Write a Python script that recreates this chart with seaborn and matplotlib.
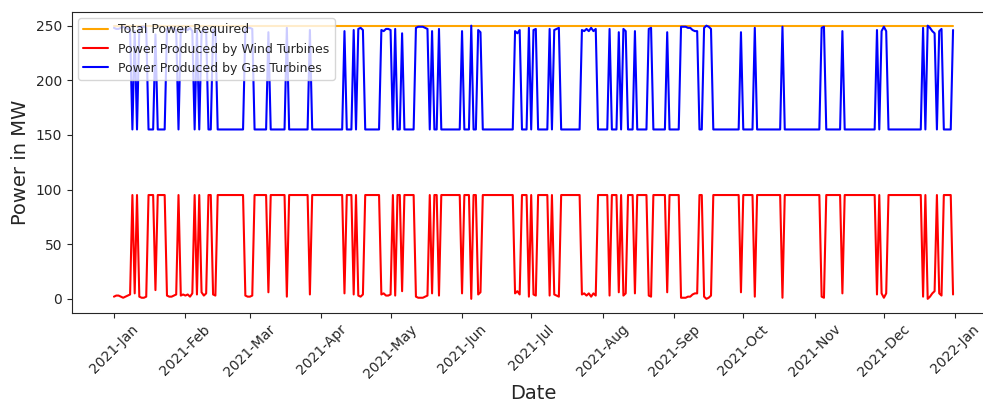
import matplotlib
matplotlib.use("Agg")
import matplotlib.pyplot as plt
import matplotlib.dates as mdates
import seaborn as sns
import pandas as pd
import numpy as np

# Demand is flat over the year
total_required = 250  # MW

# Daily wind output (MW)
wind_jan = [2, 3, 3, 2, 1, 2, 3, 4, 95, 5, 95, 2, 1, 1, 2, 95, 95, 95, 8, 95, 95,
            95, 95, 3, 2, 2, 3, 4, 95, 3, 4]
wind_feb = [3, 4, 2, 5, 95, 4, 95, 6, 3, 5, 95, 95, 4, 3, 95, 95, 95, 95, 95, 95,
            95, 95, 95, 95, 95, 95, 3, 2]
wind_mar = [2, 3, 95, 95, 95, 95, 95, 95, 6, 95, 95, 95, 95, 95, 95, 95, 2, 95, 95,
            95, 95, 95, 95, 95, 95, 95, 4, 95, 95, 95, 95]
wind_apr = [95, 95, 95, 95, 95, 95, 95, 95, 95, 95, 5, 95, 95, 95, 4, 95, 3, 2, 4,
            95, 95, 95, 95, 95, 95, 95, 4, 5, 3, 3]
wind_may = [4, 95, 3, 95, 95, 7, 95, 95, 95, 95, 95, 2, 1, 1, 1, 2, 3, 95, 5, 95,
            95, 3, 95, 95, 95, 95, 95, 95, 95, 95, 95]
wind_jun = [5, 95, 95, 95, 0, 95, 95, 4, 6, 95, 95, 95, 95, 95, 95, 95, 95, 95, 95,
            95, 95, 95, 95, 5, 7, 4, 95, 95, 95, 2]
wind_jul = [95, 4, 3, 95, 95, 95, 95, 95, 3, 95, 4, 3, 2, 95, 95, 95, 95, 95, 95,
            95, 95, 95, 4, 5, 3, 5, 2, 5, 3, 95, 95]
wind_aug = [95, 95, 95, 3, 95, 95, 95, 6, 95, 3, 5, 95, 95, 95, 5, 95, 95, 95, 95,
            95, 3, 2, 95, 95, 95, 95, 95, 95, 6, 95, 95]
wind_sep = [95, 95, 95, 1, 1, 1, 2, 2, 4, 5, 5, 95, 95, 2, 0, 1, 3, 95, 95, 95, 95,
            95, 95, 95, 95, 95, 95, 95, 95, 6]
wind_oct = [95, 95, 95, 95, 95, 2, 95, 95, 95, 95, 95, 95, 95, 95, 95, 95, 95, 1,
            95, 95, 95, 95, 95, 95, 95, 95, 95, 95, 95, 95, 95]
wind_nov = [95, 95, 95, 2, 1, 95, 95, 95, 95, 95, 95, 95, 5, 95, 95, 95, 95, 95, 95,
            95, 95, 95, 95, 95, 95, 95, 95, 4, 95, 5]
wind_dec = [1, 5, 95, 95, 95, 95, 95, 95, 95, 95, 95, 95, 95, 95, 95, 95, 95, 2, 95,
            0, 2, 5, 7, 95, 5, 3, 95, 95, 95, 95, 4]

wind = np.array(wind_jan + wind_feb + wind_mar + wind_apr + wind_may + wind_jun
                + wind_jul + wind_aug + wind_sep + wind_oct + wind_nov + wind_dec)
dates = pd.date_range("2021-01-01", "2021-12-31", freq="D")

df = pd.DataFrame({"Date": dates, "Total": total_required, "Wind": wind})
# gas turbines cover whatever the wind does not
df["Gas"] = df["Total"] - df["Wind"]

sns.set_style("ticks")
fig = plt.figure(figsize=(9.83, 4.01), dpi=100)
# right edge of the axes runs past the canvas, like the cropped original
ax = fig.add_axes([72 / 983, 1 - 312.5 / 401, 923 / 983, 300.5 / 401])

sns.lineplot(data=df, x="Date", y="Total", color="orange",
             label="Total Power Required", ax=ax)
sns.lineplot(data=df, x="Date", y="Wind", color="red",
             label="Power Produced by Wind Turbines", ax=ax)
sns.lineplot(data=df, x="Date", y="Gas", color="blue",
             label="Power Produced by Gas Turbines", ax=ax)

ax.xaxis.set_major_locator(mdates.MonthLocator())
ax.xaxis.set_major_formatter(mdates.DateFormatter("%Y-%b"))
plt.setp(ax.get_xticklabels(), rotation=45)
ax.spines["right"].set_visible(False)

ax.set_xlabel("Date", fontsize=14, labelpad=2)
ax.set_ylabel("Power in MW", fontsize=14)
ax.legend(loc="upper left", fontsize=9)

fig.savefig("out.png", dpi=100)
